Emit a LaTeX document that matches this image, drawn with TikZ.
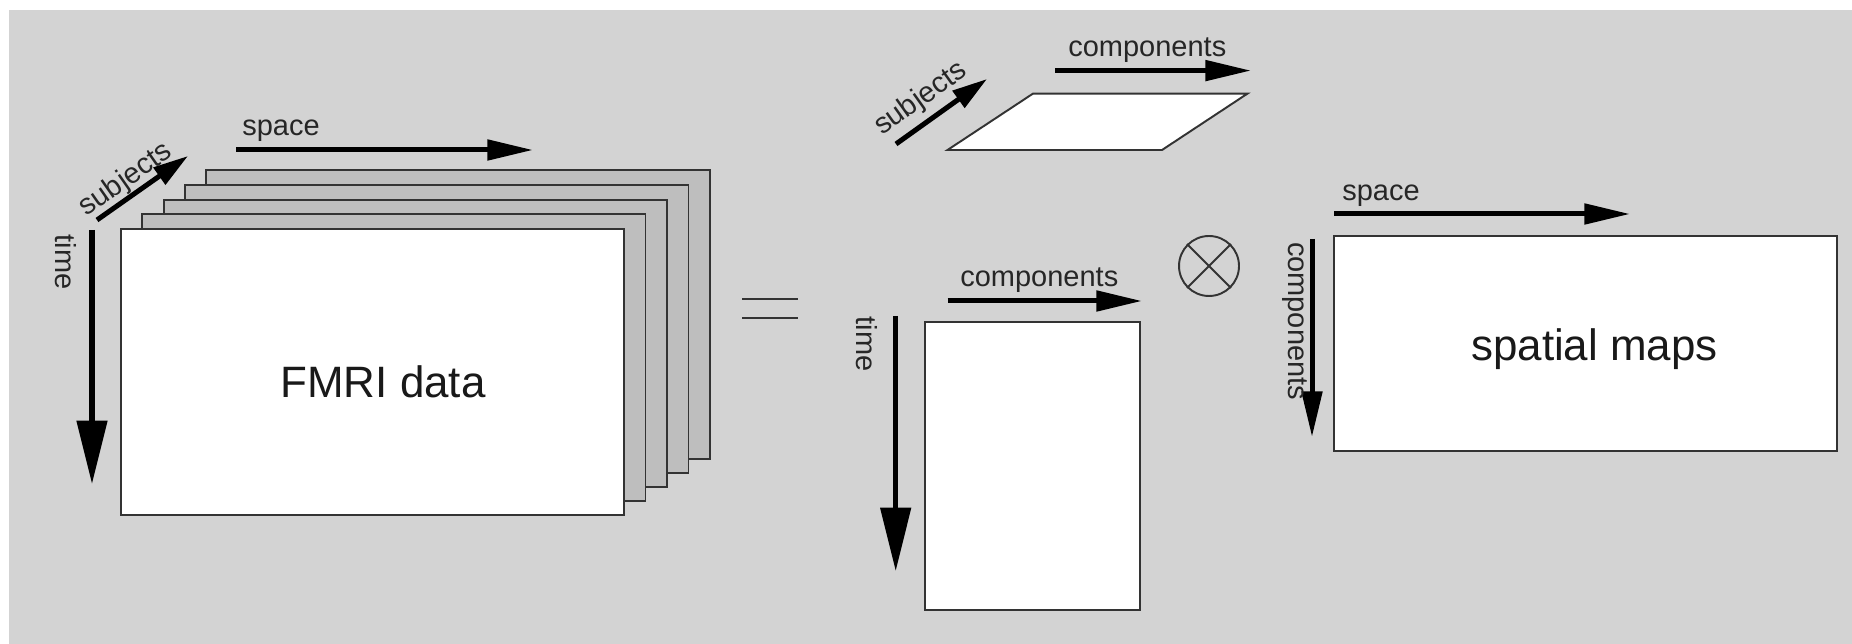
\documentclass[tikz,border=0pt]{standalone}
\usepackage{fontspec}
\setmainfont{Liberation Sans}
\usepackage{tikz}
\usetikzlibrary{arrows.meta,positioning,calc}
\definecolor{bggray}{HTML}{D3D3D3}
\definecolor{sheetgray}{HTML}{BEBEBE}
\definecolor{edgegray}{HTML}{333333}
\tikzset{
  axis/.style={line width=2.85pt,-{Triangle[length=26pt,width=11.4pt]}},
  bigaxis/.style={line width=2.85pt,-{Triangle[length=36pt,width=17pt]}},
  shortaxis/.style={line width=2.85pt,-{Triangle[length=20pt,width=11.4pt]}},
  lbl/.style={inner sep=0pt,text=black!85,font=\fontsize{16.5}{19}\selectfont},
  bigtext/.style={inner sep=0pt,text=black!90,font=\fontsize{25}{30}\selectfont},
  sheet/.style={draw=edgegray,line width=1.1pt}
}

\begin{document}
\begin{tikzpicture}[x=0.02cm,y=-0.02cm]
\useasboundingbox (0,0) rectangle (1852,644);
\fill[bggray] (9,10) rectangle (1852,644);

% stacked data of the subjects
\foreach \k in {4,3,2,1} {
  \filldraw[sheet,fill=sheetgray] (121+21.3*\k,229-14.7*\k) rectangle (624+21.5*\k,515-14*\k);
}
\node[sheet,fill=white,minimum width=10.06cm,minimum height=5.72cm] (fmri) at (372.5,372) {};
\node[bigtext] (fmrilbl) at (383,382) {FMRI data};

\coordinate (space0) at (236,150);
\coordinate (space1) at (533,150);
\draw[axis] (space0) -- (space1);
\node[lbl,anchor=base west] (spacelbl) at (242,136) {space};

\coordinate (subj0) at (97,220);
\coordinate (subj1) at (188,156);
\draw[shortaxis] (subj0) -- (subj1);
\node[lbl,rotate=35] (subjlbl) at (126,180) {subjects};

\coordinate (time0) at (92,230);
\coordinate (time1) at (92,484);
\draw[bigaxis] (time0) -- (time1);
\node[lbl,rotate=-90] (timelbl) at (66,262) {time};

% equals sign
\draw[edgegray,line width=1.4pt] (742,299) -- (798,299);
\draw[edgegray,line width=1.4pt] (742,318) -- (798,318);

% subject loadings
\filldraw[sheet,fill=white] (947.5,150) -- (1162,150) -- (1247.5,93.6) -- (1033,93.6) -- cycle;

\coordinate (comp0) at (1055,70.6);
\coordinate (comp1) at (1251,70.6);
\draw[axis] (comp0) -- (comp1);
\node[lbl,anchor=base west] (complbl) at (1068,57) {components};

\coordinate (subjb0) at (896,144);
\coordinate (subjb1) at (987,79);
\draw[shortaxis] (subjb0) -- (subjb1);
\node[lbl,rotate=35.5] (subjblbl) at (921,99) {subjects};

% time courses
\node[sheet,fill=white,minimum width=4.3cm,minimum height=5.76cm] (tc) at (1032.5,466) {};

\coordinate (compb0) at (947.5,301);
\coordinate (compb1) at (1142,301);
\draw[axis] (compb0) -- (compb1);
\node[lbl,anchor=base west] (compblbl) at (960,287) {components};

\coordinate (timeb0) at (895.7,316);
\coordinate (timeb1) at (895.7,571);
\draw[bigaxis] (timeb0) -- (timeb1);
\node[lbl,rotate=-90] (timeblbl) at (867,344) {time};

% outer product
\node[circle,draw=edgegray,line width=1.1pt,minimum size=1.2cm,inner sep=0pt] (otimes) at (1209,266) {};
\draw[edgegray,line width=1.1pt] (otimes.north west) -- (otimes.south east);
\draw[edgegray,line width=1.1pt] (otimes.north east) -- (otimes.south west);

% spatial maps
\node[sheet,fill=white,minimum width=10.06cm,minimum height=4.3cm] (maps) at (1585.5,343.5) {};
\node[bigtext] (mapslbl) at (1594.5,349) {spatial maps};

\coordinate (spaceb0) at (1334,214);
\coordinate (spaceb1) at (1630,214);
\draw[axis] (spaceb0) -- (spaceb1);
\node[lbl,anchor=base west] (spaceblbl) at (1342,201) {space};

\coordinate (compc0) at (1312,239);
\coordinate (compc1) at (1312,437);
\draw[axis] (compc0) -- (compc1);
\node[lbl,rotate=-90] (compclbl) at (1294.5,321) {components};
\end{tikzpicture}
\end{document}
